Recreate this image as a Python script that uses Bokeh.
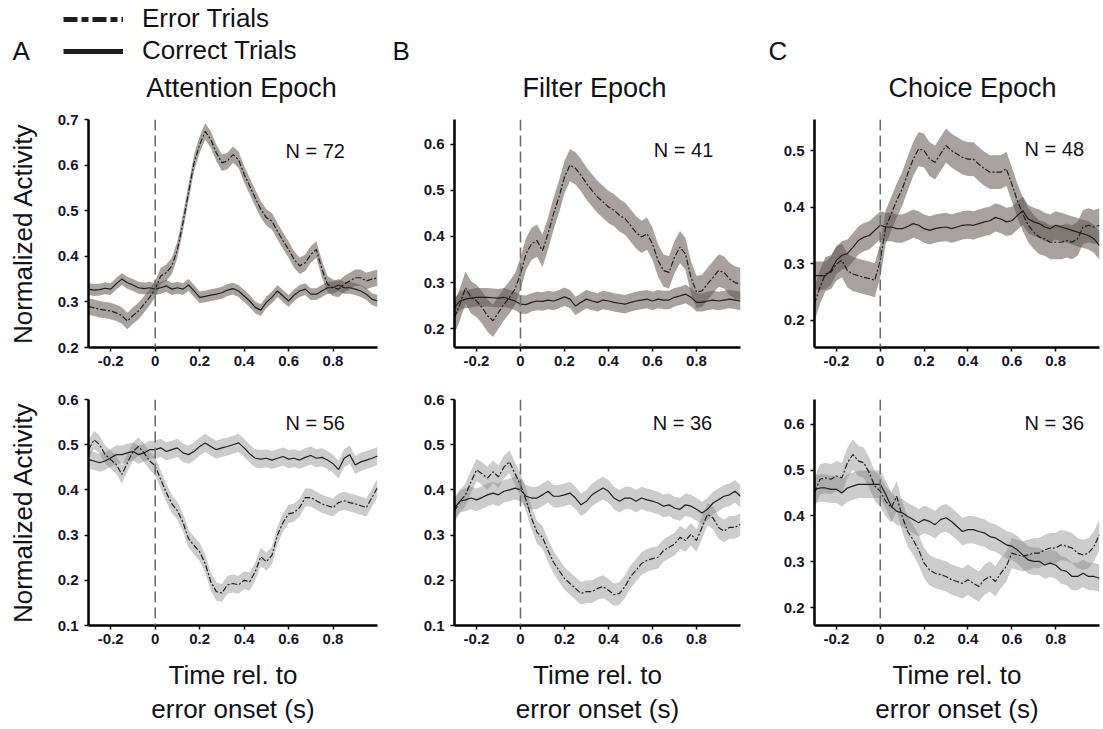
from bokeh.plotting import figure
from bokeh.layouts import column, row
from bokeh.models import Range1d, Span, Label, Legend, LegendItem, FixedTicker, ColumnDataSource
from bokeh.embed import file_html
from bokeh.resources import INLINE

# ---------------- data ----------------
TIME = [-0.3, -0.275, -0.25, -0.225, -0.2, -0.175, -0.15, -0.125, -0.1, -0.075, -0.05, -0.025,
        0.0, 0.025, 0.05, 0.075, 0.1, 0.125, 0.15, 0.175, 0.2, 0.225, 0.25,
        0.275, 0.3, 0.325, 0.35, 0.375, 0.4, 0.425, 0.45, 0.475, 0.5,
        0.525, 0.55, 0.575, 0.6, 0.625, 0.65, 0.675, 0.7, 0.725, 0.75,
        0.775, 0.8, 0.825, 0.85, 0.875, 0.9, 0.925, 0.95, 0.975, 1.0]

# top row (increase after error)
ATT_TOP_ERR = [0.290, 0.287, 0.284, 0.282, 0.280, 0.276, 0.270, 0.258, 0.270, 0.280, 0.295, 0.310, 0.328,
               0.357, 0.364, 0.379, 0.415, 0.474, 0.540, 0.605, 0.645, 0.674, 0.656,
               0.627, 0.605, 0.609, 0.623, 0.612, 0.580, 0.554, 0.528, 0.503, 0.485,
               0.477, 0.455, 0.434, 0.415, 0.393, 0.379, 0.386, 0.404, 0.415, 0.372,
               0.339, 0.331, 0.328, 0.339, 0.346, 0.353, 0.353, 0.346, 0.350, 0.353]
ATT_TOP_COR = [0.328, 0.326, 0.327, 0.330, 0.328, 0.340, 0.350, 0.342, 0.337, 0.331, 0.329, 0.331, 0.328,
               0.331, 0.335, 0.328, 0.331, 0.328, 0.337, 0.324, 0.310, 0.312, 0.315,
               0.317, 0.320, 0.326, 0.329, 0.324, 0.313, 0.302, 0.288, 0.282, 0.299,
               0.310, 0.324, 0.313, 0.302, 0.315, 0.324, 0.328, 0.317, 0.317, 0.324,
               0.331, 0.331, 0.337, 0.331, 0.331, 0.328, 0.324, 0.317, 0.306, 0.302]
FIL_TOP_ERR = [0.224, 0.253, 0.289, 0.268, 0.260, 0.246, 0.228, 0.217, 0.235, 0.253, 0.268, 0.286, 0.319,
               0.362, 0.384, 0.391, 0.369, 0.406, 0.449, 0.486, 0.529, 0.555, 0.548,
               0.533, 0.515, 0.500, 0.486, 0.475, 0.464, 0.457, 0.446, 0.439, 0.424,
               0.409, 0.399, 0.406, 0.384, 0.348, 0.326, 0.322, 0.355, 0.377, 0.362,
               0.311, 0.279, 0.282, 0.297, 0.311, 0.326, 0.322, 0.308, 0.300, 0.297]
FIL_TOP_COR = [0.246, 0.260, 0.264, 0.266, 0.268, 0.268, 0.268, 0.267, 0.266, 0.268, 0.264, 0.260, 0.253,
               0.252, 0.257, 0.260, 0.259, 0.262, 0.260, 0.264, 0.269, 0.264, 0.249,
               0.257, 0.264, 0.260, 0.257, 0.262, 0.260, 0.257, 0.255, 0.253, 0.257,
               0.260, 0.262, 0.264, 0.260, 0.264, 0.262, 0.262, 0.268, 0.271, 0.275,
               0.268, 0.257, 0.257, 0.260, 0.262, 0.260, 0.262, 0.264, 0.262, 0.260]
CHO_TOP_ERR = [0.229, 0.259, 0.282, 0.285, 0.300, 0.306, 0.288, 0.282, 0.279, 0.276, 0.274, 0.271, 0.306,
               0.365, 0.388, 0.412, 0.432, 0.459, 0.485, 0.503, 0.500, 0.485, 0.479,
               0.494, 0.509, 0.500, 0.494, 0.488, 0.485, 0.485, 0.476, 0.468, 0.462,
               0.462, 0.462, 0.468, 0.441, 0.412, 0.388, 0.368, 0.356, 0.347, 0.344,
               0.338, 0.338, 0.338, 0.341, 0.338, 0.344, 0.365, 0.368, 0.365, 0.368]
CHO_TOP_COR = [0.279, 0.279, 0.279, 0.288, 0.306, 0.315, 0.318, 0.329, 0.341, 0.347, 0.350, 0.359, 0.368,
               0.365, 0.365, 0.362, 0.362, 0.366, 0.371, 0.368, 0.362, 0.359, 0.362,
               0.364, 0.365, 0.362, 0.365, 0.368, 0.369, 0.368, 0.371, 0.374, 0.376,
               0.382, 0.379, 0.374, 0.376, 0.385, 0.394, 0.379, 0.374, 0.371, 0.365,
               0.362, 0.368, 0.365, 0.362, 0.359, 0.356, 0.353, 0.350, 0.344, 0.332]

# bottom row (decrease after error)
ATT_BOT_ERR = [0.489, 0.511, 0.500, 0.478, 0.467, 0.456, 0.434, 0.460, 0.485, 0.496, 0.482, 0.464, 0.453,
               0.423, 0.394, 0.369, 0.354, 0.328, 0.292, 0.277, 0.263, 0.237, 0.197,
               0.175, 0.172, 0.190, 0.193, 0.190, 0.200, 0.197, 0.219, 0.252, 0.241,
               0.255, 0.300, 0.328, 0.347, 0.350, 0.361, 0.383, 0.383, 0.376, 0.369,
               0.365, 0.361, 0.372, 0.376, 0.372, 0.369, 0.365, 0.361, 0.383, 0.405]
ATT_BOT_COR = [0.467, 0.464, 0.460, 0.464, 0.471, 0.478, 0.478, 0.482, 0.485, 0.478, 0.482, 0.489, 0.489,
               0.493, 0.485, 0.489, 0.493, 0.482, 0.478, 0.485, 0.496, 0.504, 0.496,
               0.489, 0.493, 0.496, 0.500, 0.504, 0.493, 0.480, 0.470, 0.468, 0.470,
               0.466, 0.470, 0.474, 0.468, 0.470, 0.466, 0.472, 0.476, 0.470, 0.472,
               0.466, 0.458, 0.445, 0.470, 0.478, 0.455, 0.462, 0.466, 0.470, 0.475]
FIL_BOT_ERR = [0.353, 0.375, 0.389, 0.418, 0.444, 0.436, 0.426, 0.440, 0.429, 0.451, 0.462, 0.436, 0.411,
               0.378, 0.338, 0.306, 0.295, 0.266, 0.240, 0.222, 0.204, 0.193, 0.182,
               0.171, 0.175, 0.175, 0.182, 0.186, 0.178, 0.168, 0.171, 0.186, 0.208,
               0.222, 0.237, 0.244, 0.248, 0.251, 0.266, 0.273, 0.280, 0.295, 0.288,
               0.302, 0.288, 0.317, 0.346, 0.338, 0.317, 0.309, 0.317, 0.317, 0.324]
FIL_BOT_COR = [0.360, 0.375, 0.378, 0.382, 0.378, 0.383, 0.389, 0.393, 0.389, 0.397, 0.400, 0.404, 0.400,
               0.386, 0.382, 0.382, 0.389, 0.397, 0.386, 0.386, 0.389, 0.393, 0.382,
               0.367, 0.375, 0.389, 0.397, 0.404, 0.397, 0.382, 0.375, 0.382, 0.382,
               0.375, 0.382, 0.378, 0.375, 0.371, 0.364, 0.367, 0.360, 0.357, 0.367,
               0.364, 0.357, 0.349, 0.357, 0.371, 0.378, 0.386, 0.389, 0.397, 0.386]
CHO_BOT_ERR = [0.450, 0.480, 0.483, 0.480, 0.487, 0.483, 0.516, 0.534, 0.520, 0.516, 0.494, 0.465, 0.454,
               0.432, 0.418, 0.443, 0.399, 0.366, 0.348, 0.326, 0.297, 0.282, 0.275,
               0.272, 0.268, 0.261, 0.257, 0.253, 0.261, 0.253, 0.246, 0.261, 0.268,
               0.257, 0.275, 0.290, 0.319, 0.315, 0.312, 0.315, 0.319, 0.319, 0.326,
               0.330, 0.330, 0.337, 0.334, 0.330, 0.319, 0.315, 0.319, 0.334, 0.359]
CHO_BOT_COR = [0.458, 0.461, 0.461, 0.458, 0.458, 0.450, 0.461, 0.465, 0.469, 0.469, 0.469, 0.469, 0.469,
               0.447, 0.421, 0.410, 0.407, 0.399, 0.392, 0.385, 0.392, 0.388, 0.381,
               0.392, 0.396, 0.388, 0.377, 0.366, 0.370, 0.370, 0.366, 0.363, 0.355,
               0.352, 0.345, 0.337, 0.334, 0.326, 0.315, 0.304, 0.301, 0.301, 0.293,
               0.297, 0.293, 0.282, 0.279, 0.268, 0.268, 0.275, 0.268, 0.268, 0.264]

# standard errors (half-width of shaded bands): [error, correct]
SEM_ATT_TOP = [0.018, 0.013]
SEM_FIL_TOP = [0.035, 0.020]
SEM_CHO_TOP = [0.030, 0.025]
SEM_ATT_BOT = [0.020, 0.020]
SEM_FIL_BOT = [0.025, 0.025]
SEM_CHO_BOT = [0.033, 0.030]

N_LABELS = ["N = 72", "N = 41", "N = 48", "N = 56", "N = 36", "N = 36"]
TITLES = ["Attention Epoch", "Filter Epoch", "Choice Epoch"]
PANEL_LETTERS = ["A", "B", "C"]
LEGEND_LABELS = ["Error Trials", "Correct Trials"]
X_TICKS = [-0.2, 0.0, 0.2, 0.4, 0.6, 0.8]
X_TICK_LABELS = ["-0.2", "0", "0.2", "0.4", "0.6", "0.8"]
Y_LABEL = "Normalized Activity"
X_LABEL = "Time rel. to\nerror onset (s)"

FONT = "Liberation Sans"
LINE_C = "#1e1e1e"
ERR_DASH = "6 2 2 2"
TEXT_C = "#111118"


def panel(width, height, borders, yr, yticks, err, cor, sem, ntext, npos,
          band_color, band_alpha, ylabel=False, xlabel=False):
    bl, br, bt, bb = borders
    p = figure(width=width, height=height, x_range=Range1d(-0.3, 1.0),
               y_range=Range1d(*yr), output_backend="svg", toolbar_location=None,
               min_border_left=bl, min_border_right=br, min_border_top=bt,
               min_border_bottom=bb)
    p.outline_line_color = None
    p.grid.visible = False
    src = ColumnDataSource(dict(
        t=TIME, err=err, cor=cor,
        err_lo=[v - sem[0] for v in err], err_hi=[v + sem[0] for v in err],
        cor_lo=[v - sem[1] for v in cor], cor_hi=[v + sem[1] for v in cor]))
    p.varea(x="t", y1="cor_lo", y2="cor_hi", source=src, fill_color=band_color, fill_alpha=band_alpha)
    p.varea(x="t", y1="err_lo", y2="err_hi", source=src, fill_color=band_color, fill_alpha=band_alpha)
    p.line(x="t", y="cor", source=src, line_color=LINE_C, line_width=1.2)
    p.line(x="t", y="err", source=src, line_color=LINE_C, line_width=1.2, line_dash=ERR_DASH)
    p.add_layout(Span(location=0, dimension="height", line_color="#6e6e6e",
                      line_width=1.6, line_dash="11 5"))
    p.add_layout(Label(x=npos[0], y=npos[1], text=ntext, text_font=FONT,
                       text_font_size="20px", text_baseline="middle", text_color=TEXT_C))
    p.xaxis.ticker = FixedTicker(ticks=X_TICKS)
    p.xaxis.major_label_overrides = dict(zip(X_TICKS, X_TICK_LABELS))
    p.yaxis.ticker = FixedTicker(ticks=yticks)
    p.yaxis.major_label_overrides = {v: f"{v:.1f}" for v in yticks}
    for ax in (p.xaxis[0], p.yaxis[0]):
        ax.axis_line_width = 2.5
        ax.axis_line_color = "black"
        ax.major_tick_line_width = 1.5
        ax.major_tick_out = 4
        ax.major_tick_in = 0
        ax.minor_tick_line_color = None
        ax.major_label_text_font = FONT
        ax.major_label_text_font_size = "15px"
        ax.major_label_text_font_style = "bold"
        ax.major_label_text_color = "#15152a"
    p.xaxis.major_label_standoff = 4
    p.yaxis.major_label_standoff = 6
    if ylabel:
        p.yaxis.axis_label = Y_LABEL
        p.yaxis.axis_label_text_font = FONT
        p.yaxis.axis_label_text_font_size = "26px"
        p.yaxis.axis_label_text_font_style = "normal"
        p.yaxis.axis_label_text_color = TEXT_C
        p.yaxis.axis_label_standoff = 17
    if xlabel:
        p.xaxis.axis_label = X_LABEL
        p.xaxis.axis_label_text_font = FONT
        p.xaxis.axis_label_text_font_size = "26px"
        p.xaxis.axis_label_text_line_height = 1.15
        p.xaxis.axis_label_text_font_style = "normal"
        p.xaxis.axis_label_text_color = TEXT_C
        p.xaxis.axis_label_standoff = 13
    return p


TOP_BAND = "#5e5552"
BOT_BAND = "#808080"
WA, WB, WC = 420, 360, 321
H1, H2 = 267, 352
TOP_B = (11, 28)
BOT_B = (24, 101)

a1 = panel(WA, H1, (88, 43) + TOP_B, (0.2, 0.7), [0.2, 0.3, 0.4, 0.5, 0.6, 0.7],
           ATT_TOP_ERR, ATT_TOP_COR, SEM_ATT_TOP, N_LABELS[0], (0.586, 0.632),
           TOP_BAND, 0.55, ylabel=True)
b1 = panel(WB, H1, (33, 40) + TOP_B, (0.159, 0.654), [0.2, 0.3, 0.4, 0.5, 0.6],
           FIL_TOP_ERR, FIL_TOP_COR, SEM_FIL_TOP, N_LABELS[1], (0.606, 0.587),
           TOP_BAND, 0.55)
c1 = panel(WC, H1, (30, 2) + TOP_B, (0.152, 0.555), [0.2, 0.3, 0.4, 0.5],
           CHO_TOP_ERR, CHO_TOP_COR, SEM_CHO_TOP, N_LABELS[2], (0.658, 0.502),
           TOP_BAND, 0.55)
a2 = panel(WA, H2, (88, 43) + BOT_B, (0.1, 0.6), [0.1, 0.2, 0.3, 0.4, 0.5, 0.6],
           ATT_BOT_ERR, ATT_BOT_COR, SEM_ATT_BOT, N_LABELS[3], (0.586, 0.547),
           BOT_BAND, 0.4, ylabel=True, xlabel=True)
b2 = panel(WB, H2, (33, 40) + BOT_B, (0.1, 0.6), [0.1, 0.2, 0.3, 0.4, 0.5, 0.6],
           FIL_BOT_ERR, FIL_BOT_COR, SEM_FIL_BOT, N_LABELS[4], (0.601, 0.547),
           BOT_BAND, 0.4, xlabel=True)
c2 = panel(WC, H2, (30, 2) + BOT_B, (0.161, 0.654), [0.2, 0.3, 0.4, 0.5, 0.6],
           CHO_BOT_ERR, CHO_BOT_COR, SEM_CHO_BOT, N_LABELS[5], (0.658, 0.602),
           BOT_BAND, 0.4, xlabel=True)

# ---------------- header: legend, panel letters, titles ----------------
HW, HH = WA + WB + WC, 108
head = figure(width=HW, height=HH, x_range=Range1d(0, HW), y_range=Range1d(0, HH),
              x_axis_location=None, y_axis_location=None, min_border=0,
              output_backend="svg", toolbar_location=None)
head.outline_line_color = None
head.grid.visible = False
# legend proxies (kept outside the visible range of the header)
r_err = head.line(x=[HW + 50, HW + 60], y=[0, 0], line_color=LINE_C, line_width=5, line_dash="14 4 7 4")
r_cor = head.line(x=[HW + 50, HW + 60], y=[0, 0], line_color=LINE_C, line_width=5)
legend = Legend(items=[LegendItem(label=LEGEND_LABELS[0], renderers=[r_err]),
                       LegendItem(label=LEGEND_LABELS[1], renderers=[r_cor])],
                location=(63, 42), orientation="vertical", glyph_width=60, glyph_height=26,
                label_height=26, label_standoff=19, spacing=1, padding=0, margin=0,
                border_line_color=None, background_fill_alpha=0,
                label_text_font=FONT, label_text_font_size="26px", label_text_color=TEXT_C)
head.add_layout(legend)

for txt, x in zip(PANEL_LETTERS, [12, 392, 768]):
    head.add_layout(Label(x=x, y=HH - 50, text=txt, text_font=FONT, text_font_size="26px",
                          text_baseline="middle", text_color=TEXT_C))
for txt, x in zip(TITLES, [241, 594, 972]):
    head.add_layout(Label(x=x, y=HH - 87, text=txt, text_font=FONT, text_font_size="27px",
                          text_align="center", text_baseline="middle", text_color=TEXT_C))

layout = column(head, row(a1, b1, c1), row(a2, b2, c2))
open("out.html", "w").write(file_html(layout, INLINE))
